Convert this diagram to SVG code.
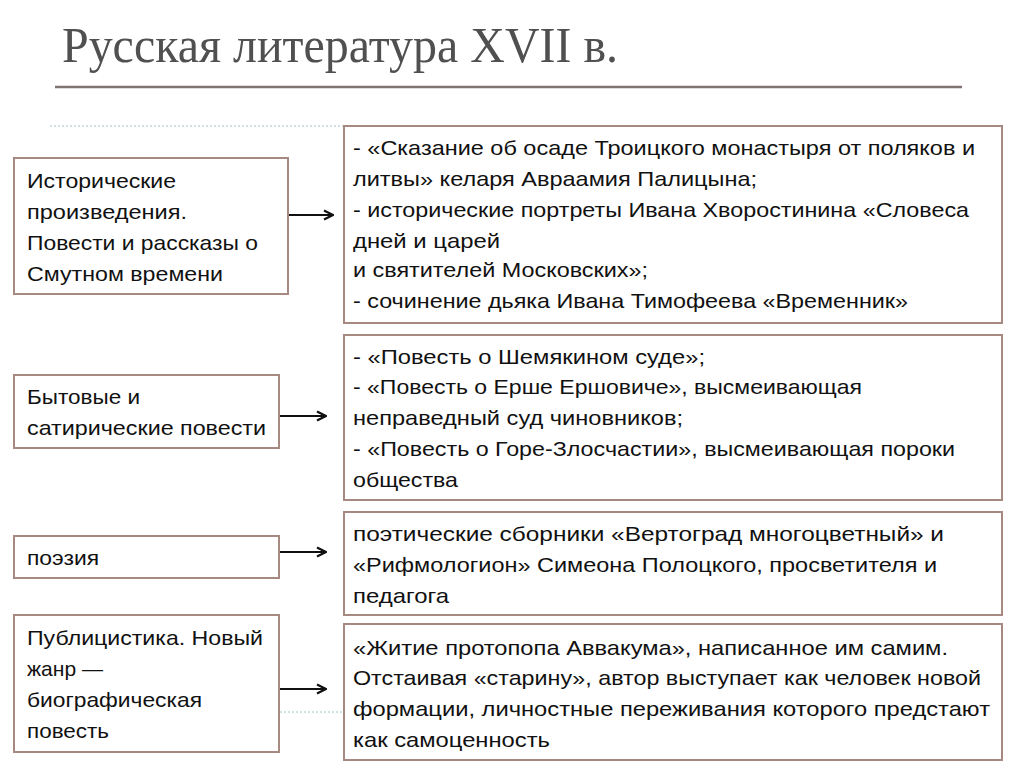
<svg xmlns="http://www.w3.org/2000/svg" width="1024" height="767" viewBox="0 0 1024 767">
<defs>
<style>
.box{fill:#fff;stroke:#a68a82;stroke-width:2}
.t{font-family:"Liberation Sans",Arial,sans-serif;font-size:21px;fill:#111}
.c{stroke:#111;stroke-width:2.2;fill:none}
.title{font-family:"Liberation Serif","Times New Roman",serif;font-size:50px;fill:#505050}
.dot{stroke:#9cc3c6;stroke-width:1;stroke-dasharray:2 2;fill:none}
</style>
<marker id="ah" viewBox="0 0 12 12" refX="11" refY="6" markerWidth="12" markerHeight="12" markerUnits="userSpaceOnUse" orient="auto">
<path d="M2,1.5 L11,6 L2,10.5" fill="none" stroke="#111" stroke-width="2.2"/>
</marker>
<filter id="sh" x="-5%" y="-200%" width="110%" height="500%"><feGaussianBlur stdDeviation="1.5"/></filter>
</defs>
<rect width="1024" height="767" fill="#fff"/>
<g id="title">
<text class="title" x="62" y="62" textLength="556" lengthAdjust="spacingAndGlyphs">Русская литература XVII в.</text>
<line x1="57" y1="90" x2="962" y2="90" stroke="#b8b0ae" stroke-width="3" filter="url(#sh)"/>
<line x1="55" y1="87" x2="962" y2="87" stroke="#807571" stroke-width="2.5"/>
</g>
<g id="guides">
<line class="dot" x1="50" y1="126" x2="344" y2="126"/>
<line class="dot" x1="280" y1="712" x2="344" y2="712"/>
</g>
<g id="connectors">
<line class="c" x1="288" y1="215" x2="333" y2="215" marker-end="url(#ah)"/>
<line class="c" x1="279" y1="416" x2="326" y2="416" marker-end="url(#ah)"/>
<line class="c" x1="279" y1="552" x2="326" y2="552" marker-end="url(#ah)"/>
<line class="c" x1="279" y1="689" x2="326" y2="689" marker-end="url(#ah)"/>
</g>
<g id="l1">
<rect class="box" x="14" y="158" width="274" height="136"/>
<text class="t" x="27" y="188" textLength="149" lengthAdjust="spacingAndGlyphs">Исторические</text>
<text class="t" x="27" y="219" textLength="160" lengthAdjust="spacingAndGlyphs">произведения.</text>
<text class="t" x="27" y="250" textLength="231" lengthAdjust="spacingAndGlyphs">Повести и рассказы о</text>
<text class="t" x="27" y="281" textLength="196" lengthAdjust="spacingAndGlyphs">Смутном времени</text>
</g>
<g id="l2">
<rect class="box" x="14" y="375" width="265" height="73"/>
<text class="t" x="27" y="404" textLength="113" lengthAdjust="spacingAndGlyphs">Бытовые и</text>
<text class="t" x="27" y="435" textLength="239" lengthAdjust="spacingAndGlyphs">сатирические повести</text>
</g>
<g id="l3">
<rect class="box" x="14" y="536" width="265" height="42"/>
<text class="t" x="27" y="565" textLength="72" lengthAdjust="spacingAndGlyphs">поэзия</text>
</g>
<g id="l4">
<rect class="box" x="14" y="615" width="265" height="137"/>
<text class="t" x="27" y="645" textLength="236" lengthAdjust="spacingAndGlyphs">Публицистика. Новый</text>
<text class="t" x="27" y="676" textLength="76" lengthAdjust="spacingAndGlyphs">жанр —</text>
<text class="t" x="27" y="707" textLength="175" lengthAdjust="spacingAndGlyphs">биографическая</text>
<text class="t" x="27" y="738" textLength="82" lengthAdjust="spacingAndGlyphs">повесть</text>
</g>
<g id="r1">
<rect class="box" x="344" y="126" width="658" height="197"/>
<text class="t" x="353" y="155" textLength="622" lengthAdjust="spacingAndGlyphs">- «Сказание об осаде Троицкого монастыря от поляков и</text>
<text class="t" x="353" y="186" textLength="404" lengthAdjust="spacingAndGlyphs">литвы» келаря Авраамия Палицына;</text>
<text class="t" x="353" y="217" textLength="616" lengthAdjust="spacingAndGlyphs">- исторические портреты Ивана Хворостинина «Словеса</text>
<text class="t" x="353" y="248" textLength="147" lengthAdjust="spacingAndGlyphs">дней и царей</text>
<text class="t" x="353" y="277" textLength="295" lengthAdjust="spacingAndGlyphs">и святителей Московских»;</text>
<text class="t" x="353" y="308" textLength="555" lengthAdjust="spacingAndGlyphs">- сочинение дьяка Ивана Тимофеева «Временник»</text>
</g>
<g id="r2">
<rect class="box" x="344" y="335" width="658" height="165"/>
<text class="t" x="353" y="364" textLength="352" lengthAdjust="spacingAndGlyphs">- «Повесть о Шемякином суде»;</text>
<text class="t" x="353" y="394" textLength="509" lengthAdjust="spacingAndGlyphs">- «Повесть о Ерше Ершовиче», высмеивающая</text>
<text class="t" x="353" y="425" textLength="330" lengthAdjust="spacingAndGlyphs">неправедный суд чиновников;</text>
<text class="t" x="353" y="456" textLength="602" lengthAdjust="spacingAndGlyphs">- «Повесть о Горе-Злосчастии», высмеивающая пороки</text>
<text class="t" x="353" y="487" textLength="105" lengthAdjust="spacingAndGlyphs">общества</text>
</g>
<g id="r3">
<rect class="box" x="344" y="512" width="658" height="103"/>
<text class="t" x="353" y="541" textLength="591" lengthAdjust="spacingAndGlyphs">поэтические сборники «Вертоград многоцветный» и</text>
<text class="t" x="353" y="572" textLength="584" lengthAdjust="spacingAndGlyphs">«Рифмологион» Симеона Полоцкого, просветителя и</text>
<text class="t" x="353" y="603" textLength="96" lengthAdjust="spacingAndGlyphs">педагога</text>
</g>
<g id="r4">
<rect class="box" x="344" y="624" width="658" height="136"/>
<text class="t" x="353" y="655" textLength="595" lengthAdjust="spacingAndGlyphs">«Житие протопопа Аввакума», написанное им самим.</text>
<text class="t" x="353" y="685" textLength="628" lengthAdjust="spacingAndGlyphs">Отстаивая «старину», автор выступает как человек новой</text>
<text class="t" x="353" y="716" textLength="637" lengthAdjust="spacingAndGlyphs">формации, личностные переживания которого предстают</text>
<text class="t" x="353" y="747" textLength="197" lengthAdjust="spacingAndGlyphs">как самоценность</text>
</g>
</svg>
